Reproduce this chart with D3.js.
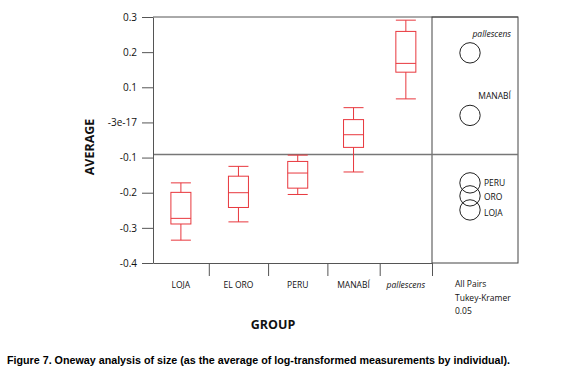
<!DOCTYPE html>
<html>
<head>
  <meta charset="utf-8">
  <title>Oneway analysis of size</title>
  <script src="https://d3js.org/d3.v7.min.js"></script>
  <style media="screen">
    body {
      margin: 0;
      background: white;
    }
    text {
      font-family: "Open Sans", sans-serif;
      fill: #111;
    }
    .axis>.domain, .axis>.tick>line {
      stroke: #555;
    }
  </style>
</head>

<body>
<div id="output"></div>

<script type="text/javascript">

  // groups, group sizes (x widths are proportional to n), box plot stats
  var groups = ["LOJA", "EL ORO", "PERU", "MANABÍ", "pallescens"];
  var groupN = [16, 17, 17, 15, 15];
  var whiskerHigh = [-0.172, -0.125, -0.093, 0.042, 0.291];
  var q3 = [-0.199, -0.153, -0.111, 0.008, 0.259];
  var median = [-0.273, -0.200, -0.144, -0.035, 0.168];
  var q1 = [-0.289, -0.242, -0.187, -0.071, 0.143];
  var whiskerLow = [-0.335, -0.283, -0.205, -0.141, 0.067];

  var grandMean = -0.091;

  // Tukey-Kramer comparison circles
  var circleLabels = ["pallescens", "MANABÍ", "PERU", "ORO", "LOJA"];
  var circleCenter = [0.198, 0.020, -0.172, -0.209, -0.249];
  var circleRadius = 0.029;

  var yTicks = [0.3, 0.2, 0.1, 0, -0.1, -0.2, -0.3, -0.4];
  var yTickLabels = ["0.3", "0.2", "0.1", "-3e-17", "-0.1", "-0.2", "-0.3", "-0.4"];

  var w = 585;
  var h = 381;

  var plotLeft = 153, plotTop = 17, plotBottom = 263, plotSplit = 432, plotRight = 518;

  var cum = [0];
  groupN.forEach(function(n, i){ cum.push(cum[i] + n); });

  var x = d3.scaleLinear()
          .domain([0, cum[cum.length - 1]])
          .range([plotLeft, plotSplit]);

  var y = d3.scaleLinear()
          .domain([-0.4, 0.3])
          .range([plotBottom, plotTop]);

  var svg = d3.select("#output").append("svg")
          .attr("width", w)
          .attr("height", h);

  // frame
  svg.append("line")
          .attr("x1", plotLeft).attr("x2", plotRight)
          .attr("y1", plotTop).attr("y2", plotTop)
          .attr("stroke", "#555");
  svg.append("rect")
          .attr("x", plotSplit).attr("y", plotTop)
          .attr("width", plotRight - plotSplit).attr("height", plotBottom - plotTop)
          .attr("fill", "none")
          .attr("stroke", "#444");

  // grand mean line
  svg.append("line")
          .attr("x1", plotLeft).attr("x2", plotRight)
          .attr("y1", y(grandMean)).attr("y2", y(grandMean))
          .attr("stroke", "#777")
          .attr("stroke-width", 1.5);

  var yAxis = d3.axisLeft(y)
          .tickValues(yTicks)
          .tickFormat(function(d, i){ return yTickLabels[i]; })
          .tickSize(11)
          .tickSizeOuter(0)
          .tickPadding(5);

  svg.append("g")
          .attr("class", "axis")
          .attr("transform", "translate(" + plotLeft + ",0)")
          .call(yAxis)
          .selectAll("text")
          .style("font-size", "10px")
          .style("fill", "#111");

  var xAxis = d3.axisBottom(x)
          .tickValues(cum.slice(1))
          .tickFormat("")
          .tickSize(13)
          .tickSizeOuter(0);

  svg.append("g")
          .attr("class", "axis")
          .attr("transform", "translate(0," + plotBottom + ")")
          .call(xAxis);

  svg.selectAll(".group-label")
          .data(groups)
          .enter()
          .append("text")
          .attr("class", "group-label")
          .attr("x", function(d, i){ return x((cum[i] + cum[i + 1]) / 2); })
          .attr("y", 288)
          .attr("text-anchor", "middle")
          .style("font-size", "8.5px")
          .style("font-style", function(d){ return d == "pallescens" ? "italic" : "normal"; })
          .text(function(d){ return d; });

  // box plots
  var boxW = 20;
  var red = "#e8373d";
  var box = svg.selectAll(".box")
          .data(groups)
          .enter()
          .append("g")
          .attr("class", "box")
          .attr("transform", function(d, i){
            return "translate(" + x((cum[i] + cum[i + 1]) / 2) + ",0)";
          })
          .attr("stroke", red)
          .attr("fill", "none");

  box.append("line")
          .attr("y1", function(d, i){ return y(whiskerHigh[i]); })
          .attr("y2", function(d, i){ return y(q3[i]); });
  box.append("line")
          .attr("y1", function(d, i){ return y(q1[i]); })
          .attr("y2", function(d, i){ return y(whiskerLow[i]); });
  box.append("rect")
          .attr("x", -boxW / 2)
          .attr("width", boxW)
          .attr("y", function(d, i){ return y(q3[i]); })
          .attr("height", function(d, i){ return y(q1[i]) - y(q3[i]); });
  box.append("line")
          .attr("x1", -boxW / 2).attr("x2", boxW / 2)
          .attr("y1", function(d, i){ return y(median[i]); })
          .attr("y2", function(d, i){ return y(median[i]); });
  [whiskerHigh, whiskerLow].forEach(function(arr){
    box.append("line")
            .attr("x1", -boxW / 2).attr("x2", boxW / 2)
            .attr("y1", function(d, i){ return y(arr[i]); })
            .attr("y2", function(d, i){ return y(arr[i]); });
  });

  // comparison circles
  var cx = 470;
  var rPx = y(0) - y(circleRadius);
  svg.selectAll(".circles")
          .data(circleCenter)
          .enter()
          .append("circle")
          .attr("class", "circles")
          .attr("cx", cx)
          .attr("cy", function(d){ return y(d); })
          .attr("r", rPx)
          .attr("fill", "none")
          .attr("stroke", "#222");

  svg.selectAll(".circle-label")
          .data(circleLabels)
          .enter()
          .append("text")
          .attr("class", "circle-label")
          .attr("x", function(d, i){ return i < 2 ? 511 : cx + 14; })
          .attr("y", function(d, i){
            return i < 2 ? y(circleCenter[i]) - 16 : y(circleCenter[i]) + 3 + (i - 2) * 1.5;
          })
          .attr("text-anchor", function(d, i){ return i < 2 ? "end" : "start"; })
          .style("font-size", "8.5px")
          .style("font-style", function(d){ return d == "pallescens" ? "italic" : "normal"; })
          .text(function(d){ return d; });

  ["All Pairs", "Tukey-Kramer", "0.05"].forEach(function(t, i){
    svg.append("text")
            .attr("x", 455)
            .attr("y", 287 + i * 13.7)
            .style("font-size", "8.5px")
            .text(t);
  });

  // axis titles
  svg.append("text")
          .attr("x", 273)
          .attr("y", 329)
          .attr("text-anchor", "middle")
          .style("font-size", "12.5px")
          .style("font-weight", "bold")
          .text("GROUP");

  svg.append("text")
          .attr("transform", "translate(94,147) rotate(-90)")
          .attr("text-anchor", "middle")
          .style("font-size", "12.5px")
          .style("font-weight", "bold")
          .text("AVERAGE");

  svg.append("text")
          .attr("x", 7)
          .attr("y", 364)
          .attr("textLength", 503)
          .attr("lengthAdjust", "spacingAndGlyphs")
          .style("font-family", "'Liberation Sans', Arial, sans-serif")
          .style("font-size", "11.5px")
          .style("font-weight", "bold")
          .style("fill", "#000")
          .text("Figure 7. Oneway analysis of size (as the average of log-transformed measurements by individual).");

</script>

</body>
</html>
